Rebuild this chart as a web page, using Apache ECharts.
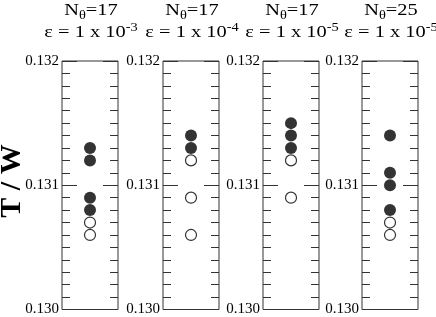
<!DOCTYPE html>
<html lang="en">
<head>
  <meta charset="UTF-8">
  <title>T / W</title>
  <style>
    html, body { margin: 0; padding: 0; background: #fff; }
    #chart { width: 436px; height: 317px; }
  </style>
  <script src="https://cdn.jsdelivr.net/npm/echarts@6/dist/echarts.min.js"></script>
</head>
<body>
  <div id="chart"></div>
</body>
</html>
<script>
  // panel headers
  var nTheta = ['17', '17', '17', '25'];
  var epsExp = ['-3', '-4', '-5', '-5'];
  // T/W values, filled and open circles per panel
  var filledVals = [
    [0.1313, 0.1312, 0.1309, 0.1308],
    [0.1314, 0.1313],
    [0.1315, 0.1314, 0.1313],
    [0.1314, 0.1311, 0.1310, 0.1308]
  ];
  var openVals = [
    [0.1307, 0.1306],
    [0.1312, 0.1309, 0.1306],
    [0.1312, 0.1309],
    [0.1307, 0.1306]
  ];
  var yTicks = [0.130, 0.131, 0.132];

  var font = 'Liberation Serif';
  var lefts = [62, 163, 263, 362];
  var gw = 56;

  var myChart = echarts.init(document.getElementById('chart'));
  var grids = [], xAxes = [], yAxes = [], series = [], graphics = [];

  lefts.forEach(function (l, i) {
    grids.push({left: l, top: 61, width: gw, height: 249, show: true,
      borderColor: '#333', borderWidth: 1, backgroundColor: 'transparent'});
    xAxes.push({type: 'value', gridIndex: i, min: 0, max: 2, show: false});
    // left axis with labels
    yAxes.push({
      type: 'value', gridIndex: i, position: 'left',
      min: yTicks[0], max: yTicks[2], interval: 0.001,
      axisLine: {show: false},
      axisTick: {show: true, inside: true, length: 15, lineStyle: {color: '#333'}},
      minorTick: {show: true, splitNumber: 10, length: 8, lineStyle: {color: '#333'}},
      splitLine: {show: false},
      axisLabel: {color: '#000', fontFamily: font, fontSize: 15, margin: 3,
        formatter: function (v) { return v.toFixed(3); }}
    });
    // right side ticks
    yAxes.push({
      type: 'value', gridIndex: i, position: 'right',
      min: yTicks[0], max: yTicks[2], interval: 0.001,
      axisLine: {show: false},
      axisTick: {show: true, inside: true, length: 15, lineStyle: {color: '#333'}},
      minorTick: {show: true, splitNumber: 10, length: 8, lineStyle: {color: '#333'}},
      splitLine: {show: false},
      axisLabel: {show: false}
    });
    series.push({
      type: 'scatter', xAxisIndex: i, yAxisIndex: i * 2,
      symbolSize: 12, itemStyle: {color: '#000'},
      data: filledVals[i].map(function (v) { return [1, v]; })
    });
    series.push({
      type: 'scatter', xAxisIndex: i, yAxisIndex: i * 2,
      symbolSize: 11, itemStyle: {color: '#fff', borderColor: '#000', borderWidth: 1.2},
      data: openVals[i].map(function (v) { return [1, v]; })
    });
    // header text (slightly stretched like the original)
    graphics.push({
      type: 'text', x: l + gw / 2 + 1, y: 0, scaleX: 1.2,
      style: {
        text: '{n|N}{sub|θ}{n|=' + nTheta[i] + '}\n{n|ε = 1 x 10}{sup|' + epsExp[i] + '}',
        align: 'center', verticalAlign: 'top', fill: '#000',
        rich: {
          n: {fontFamily: font, fontSize: 17, lineHeight: 22, verticalAlign: 'middle'},
          sub: {fontFamily: font, fontSize: 12, lineHeight: 6, verticalAlign: 'bottom'},
          sup: {fontFamily: font, fontSize: 12, lineHeight: 1, verticalAlign: 'top'}
        }
      }
    });
  });

  graphics.push({
    type: 'text', x: 12, y: 181, rotation: Math.PI / 2,
    style: {text: 'T / W', align: 'center', verticalAlign: 'middle', fill: '#000',
      fontFamily: font, fontSize: 30, fontWeight: 'bold'}
  });

  var option = {
    animation: false,
    grid: grids,
    xAxis: xAxes,
    yAxis: yAxes,
    series: series,
    graphic: graphics
  };
  myChart.setOption(option);
</script>
